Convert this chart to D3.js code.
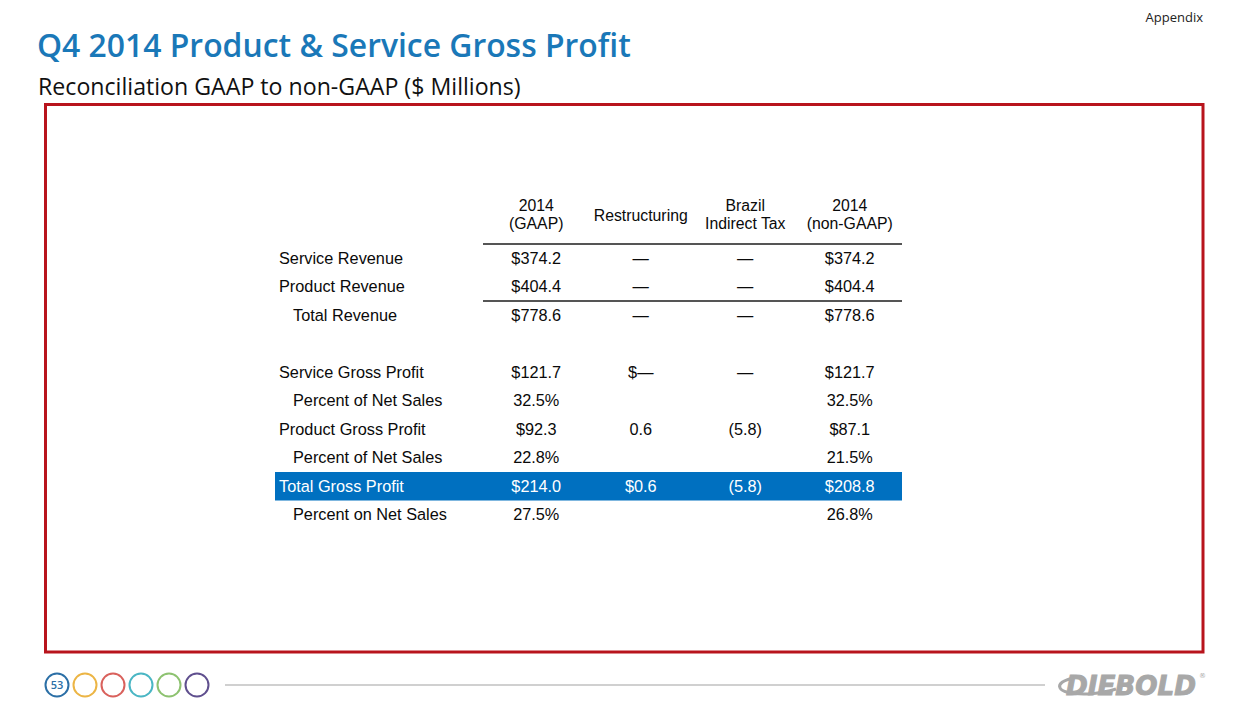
<!DOCTYPE html>
<html><head><meta charset="utf-8">
<script src="https://cdn.jsdelivr.net/npm/d3@7"></script>
<style>body{margin:0;background:#fff;overflow:hidden}</style></head>
<body>
<script>
// ---- data ----
const titleText = "Q4 2014 Product & Service Gross Profit";
const subtitleText = "Reconciliation GAAP to non-GAAP ($ Millions)";
const cornerText = "Appendix";
const pageNumber = "53";
const columnKeys = ["gaap", "restructuring", "brazil", "nongaap"];
const columnHeaders = [["2014", "(GAAP)"], ["Restructuring"], ["Brazil", "Indirect Tax"], ["2014", "(non-GAAP)"]];
const rowLabels = ["Service Revenue", "Product Revenue", "Total Revenue", "", "Service Gross Profit", "Percent of Net Sales", "Product Gross Profit", "Percent of Net Sales", "Total Gross Profit", "Percent on Net Sales"];
const rowIndented = [false, false, true, false, false, true, false, true, false, true];
const gaapValues = ["$374.2", "$404.4", "$778.6", "", "$121.7", "32.5%", "$92.3", "22.8%", "$214.0", "27.5%"];
const restructuringValues = ["—", "—", "—", "", "$—", "", "0.6", "", "$0.6", ""];
const brazilTaxValues = ["—", "—", "—", "", "—", "", "(5.8)", "", "(5.8)", ""];
const nonGaapValues = ["$374.2", "$404.4", "$778.6", "", "$121.7", "32.5%", "$87.1", "21.5%", "$208.8", "26.8%"];
const highlightRow = 8;
const rulesAfterRow = [-1, 1];
const footerColors = ["#2b6fa6", "#ecb545", "#d9615c", "#4ab6c4", "#8dc270", "#5f4f8e"];

const W = 1248, H = 720;
const svg = d3.select("body").append("svg").attr("width", W).attr("height", H);

function fit(sel, target) {
  const len = sel.node().getComputedTextLength();
  const fs = parseFloat(sel.attr("font-size"));
  sel.attr("font-size", fs * target / len);
}

// title & subtitle
const t = svg.append("text").attr("x", 37).attr("y", 57).attr("font-family", "Open Sans").attr("font-weight", 600)
  .attr("font-size", 31).attr("fill", "#1a78b8").text(titleText);
fit(t, 594);
const st = svg.append("text").attr("x", 38).attr("y", 95).attr("font-family", "Open Sans")
  .attr("font-size", 22).attr("fill", "#111").text(subtitleText);
fit(st, 483);
svg.append("text").attr("x", 1203).attr("y", 22).attr("text-anchor", "end").attr("font-family", "Open Sans")
  .attr("font-size", 13).attr("fill", "#222").text(cornerText);

// red frame
svg.append("rect").attr("x", 45.5).attr("y", 104.5).attr("width", 1157.5).attr("height", 547.5)
  .attr("fill", "none").attr("stroke", "#b8141c").attr("stroke-width", 3);

// table scales
const x = d3.scaleBand().domain(columnKeys).range([484, 902]);
const y = d3.scaleBand().domain(d3.range(rowLabels.length)).range([244, 529]);
const cols = { gaap: gaapValues, restructuring: restructuringValues, brazil: brazilTaxValues, nongaap: nonGaapValues };
const font = "Liberation Sans, Arial, sans-serif";
const g = svg.append("g").attr("font-family", font).attr("font-size", 16.3).attr("fill", "#0a0a0a");

// highlight band
g.append("rect").attr("x", 275).attr("y", y(highlightRow)).attr("width", 902 - 275).attr("height", y.bandwidth())
  .attr("fill", "#0070c0");

// header
columnKeys.forEach((k, i) => {
  const lines = columnHeaders[i];
  const cx = x(k) + x.bandwidth() / 2;
  lines.forEach((ln, j) => {
    const cy = lines.length === 1 ? 215 : 205.8 + j * 17.8;
    g.append("text").attr("x", cx).attr("y", cy).attr("dy", "0.35em").attr("text-anchor", "middle")
      .attr("font-size", 15.8).text(ln);
  });
});

// rules
rulesAfterRow.forEach(r => {
  const ry = r < 0 ? y(0) : y(r) + y.bandwidth();
  g.append("line").attr("x1", 483).attr("x2", 902).attr("y1", ry).attr("y2", ry)
    .attr("stroke", "#555").attr("stroke-width", 2);
});

// rows
rowLabels.forEach((lab, i) => {
  const cy = y(i) + y.bandwidth() / 2;
  const fill = i === highlightRow ? "#fff" : "#0a0a0a";
  if (lab) g.append("text").attr("x", rowIndented[i] ? 293 : 279).attr("y", cy).attr("dy", "0.35em").attr("fill", fill).text(lab);
  columnKeys.forEach(k => {
    const v = cols[k][i];
    if (!v) return;
    g.append("text").attr("x", x(k) + x.bandwidth() / 2).attr("y", cy).attr("dy", "0.35em")
      .attr("text-anchor", "middle").attr("fill", fill).text(v);
  });
});

// footer circles
const fx = d3.scalePoint().domain(d3.range(footerColors.length)).range([57, 197]);
footerColors.forEach((c, i) => {
  svg.append("circle").attr("cx", fx(i)).attr("cy", 685).attr("r", 11.5).attr("fill", "none")
    .attr("stroke", c).attr("stroke-width", 2);
});
svg.append("text").attr("x", fx(0)).attr("y", 685).attr("dy", "0.35em").attr("text-anchor", "middle")
  .attr("font-family", "Open Sans").attr("font-weight", 600).attr("font-size", 11).attr("fill", "#2b6fa6").text(pageNumber);
svg.append("line").attr("x1", 225).attr("x2", 1045).attr("y1", 685).attr("y2", 685)
  .attr("stroke", "#d0d0d0").attr("stroke-width", 2);

// logo
const lg = svg.append("text").attr("x", 1066).attr("y", 695).attr("font-family", "DejaVu Sans").attr("font-weight", 900)
  .attr("font-style", "italic").attr("font-size", 26).attr("fill", "#a8a8a8")
  .attr("stroke", "#a8a8a8").attr("stroke-width", 1).text("DIEBOLD");
fit(lg, 130);
svg.append("path").attr("d", "M1074,678 C1052,682 1054,695 1088,694 C1102,693 1110,691 1116,689")
  .attr("fill", "none").attr("stroke", "#a8a8a8").attr("stroke-width", 3);
svg.append("text").attr("x", 1199).attr("y", 678).attr("font-family", "DejaVu Sans").attr("font-size", 7)
  .attr("fill", "#a8a8a8").text("®");
</script>
</body></html>
